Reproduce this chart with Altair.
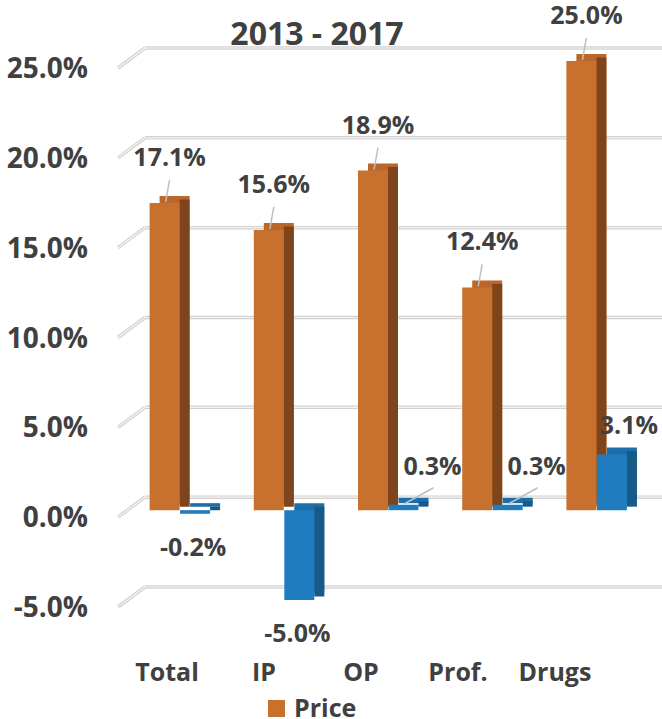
import altair as alt
import pandas as pd

# ---- data ----
categories = ["Total", "IP", "OP", "Prof.", "Drugs"]
price = [17.1, 15.6, 18.9, 12.4, 25.0]
utilization = [-0.2, -5.0, 0.3, 0.3, 3.1]
series = ["Price", "Utilization"]
y_ticks = [-5, 0, 5, 10, 15, 20, 25]
title_text = ["2013 - 2017"]

rows = []
for c, p, u in zip(categories, price, utilization):
    rows.append({"Category": c, "Series": "Price", "Value": p})
    rows.append({"Category": c, "Series": "Utilization", "Value": u})
df = pd.DataFrame(rows)
df_ticks = pd.DataFrame({"tick": y_ticks})
df_cats = pd.DataFrame({"Category": categories})
df_title = pd.DataFrame({"t": title_text})

FONT = "Open Sans"
TXT = "#404040"
ORANGE = {"front": "#C8702E", "top": "#BC662A", "side": "#7E451C"}
BLUE = {"front": "#1F7CBF", "top": "#1B6EAA", "side": "#175A88"}
GRID_OUT = "#d2d2d2"
GRID_IN = "#f4f4f4"
PCT = "(datum.{f} < 0 ? '-' : '') + format(abs(datum.{f}), '.1f') + '%'"

W, H = 521, 539
yscale = alt.Scale(domain=[-5, 25], nice=False, zero=False)
xband = alt.Scale(type="band", domain=categories, paddingInner=0, paddingOuter=0)

base = alt.Chart(df)


# ---- perspective gridlines (side-wall slant + back-wall line), double-line look ----
def grid_layers(color, sw):
    slant = alt.Chart(df_ticks).mark_rule(
        color=color, strokeWidth=sw, yOffset=7, y2Offset=-13
    ).encode(
        y=alt.Y("tick:Q", scale=yscale, axis=None),
        y2="tick:Q",
        x=alt.value(-10),
        x2=alt.value(17),
    )
    back = alt.Chart(df_ticks).mark_rule(
        color=color, strokeWidth=sw, yOffset=-13
    ).encode(
        y=alt.Y("tick:Q", scale=yscale, axis=None),
        x=alt.value(17),
        x2=alt.value(545),
    )
    return [slant, back]


# y tick labels
y_labels = alt.Chart(df_ticks).transform_calculate(
    lab=PCT.format(f="tick")
).mark_text(font=FONT, fontSize=28, fontWeight="bold", color=TXT,
            align="right", baseline="middle", dy=9).encode(
    y=alt.Y("tick:Q", scale=yscale, axis=None),
    x=alt.value(-40),
    text="lab:N",
)


def bar_layers(name, colors, off):
    b = base.transform_filter(alt.datum.Series == name)
    enc = dict(
        x=alt.X("Category:N", scale=xband, axis=None),
        y=alt.Y("Value:Q", scale=yscale, axis=None),
        y2=alt.datum(0),
    )
    back = b.mark_bar(width=30, xOffset=off + 10, yOffset=-7, y2Offset=-7,
                      color=colors["top"]).encode(**enc)
    side = b.mark_bar(width=10, xOffset=off + 20, yOffset=-3.5, y2Offset=-3.5,
                      color=colors["side"]).encode(**enc)
    front = b.mark_bar(width=30, xOffset=off).encode(
        color=alt.Color("Series:N",
                        scale=alt.Scale(domain=series,
                                        range=[ORANGE["front"], BLUE["front"]]),
                        legend=alt.Legend(values=["Price"], title=None)),
        **enc)
    return [back, side, front]


OFF_P, OFF_U = -15.5, 15

xc = alt.X("Category:N", scale=xband, axis=None, bandPosition=0.5)
x2c = alt.X2("Category:N", bandPosition=0.5)
yv = alt.Y("Value:Q", scale=yscale, axis=None)

lead_p = base.transform_filter(alt.datum.Series == "Price").mark_rule(
    color="#bfbfbf", strokeWidth=1.5, xOffset=OFF_P + 5, x2Offset=OFF_P + 1,
    yOffset=-23, y2Offset=-1
).encode(x=xc, x2=x2c, y=yv, y2="Value:Q")

lead_u = base.transform_filter(
    (alt.datum.Series == "Utilization") & (alt.datum.Value > 0) & (alt.datum.Value < 1)
).mark_rule(
    color="#bfbfbf", strokeWidth=1.5, xOffset=OFF_U + 30, x2Offset=OFF_U + 1,
    yOffset=-17, y2Offset=-1
).encode(x=xc, x2=x2c, y=yv, y2="Value:Q")

txt_kw = dict(font=FONT, fontSize=25, fontWeight="bold", color=TXT,
              baseline="middle", align="center")
lab_enc = dict(x=alt.X("Category:N", scale=xband, axis=None),
               y=yv, text="lab:N")


def labels(filt, off, dx, dy):
    return base.transform_filter(filt).transform_calculate(
        lab=PCT.format(f="Value")
    ).mark_text(xOffset=off, dx=dx, dy=dy, **txt_kw).encode(**lab_enc)


lab_p = labels(alt.datum.Series == "Price", OFF_P, 5, -45)
lab_u_small = labels((alt.datum.Series == "Utilization") & (alt.datum.Value > 0)
                     & (alt.datum.Value < 1), OFF_U, 29, -38)
lab_u_big = labels((alt.datum.Series == "Utilization") & (alt.datum.Value >= 1),
                   OFF_U, 17, -28)
lab_u_neg = labels((alt.datum.Series == "Utilization") & (alt.datum.Value < 0),
                   OFF_U, -2, 34)

cat_labels = alt.Chart(df_cats).mark_text(
    font=FONT, fontSize=25, fontWeight="bold", color=TXT, baseline="middle"
).encode(
    x=alt.X("Category:N", scale=alt.Scale(type="point", domain=categories,
                                          range=[39, 427], padding=0), axis=None),
    y=alt.value(612),
    text="Category:N",
)

title = alt.Chart(df_title).mark_text(
    font=FONT, fontSize=32, fontWeight="bold", color=TXT,
    align="center", baseline="alphabetic"
).encode(x=alt.value(189), y=alt.value(-16), text="t:N")

layers = grid_layers(GRID_OUT, 3.5) + grid_layers(GRID_IN, 1.2) + [y_labels]
layers += bar_layers("Price", ORANGE, OFF_P)
layers += bar_layers("Utilization", BLUE, OFF_U)
layers += [lead_p, lead_u, lab_p, lab_u_small, lab_u_big, lab_u_neg, cat_labels, title]

chart = alt.layer(*layers).resolve_scale(x="independent").properties(
    width=W, height=H,
    autosize=alt.AutoSizeParams(type="none"),
    padding={"left": 128, "top": 61, "right": 13, "bottom": 119},
).configure_view(stroke=None).configure_legend(
    orient="none", legendX=136, legendY=635, padding=0,
    symbolType="square", symbolSize=289, symbolStrokeWidth=0,
    labelFont=FONT, labelFontSize=25, labelFontWeight="bold",
    labelColor=TXT, labelOffset=5,
)

chart.save("out.html", embed_options={"renderer": "svg", "actions": False})
